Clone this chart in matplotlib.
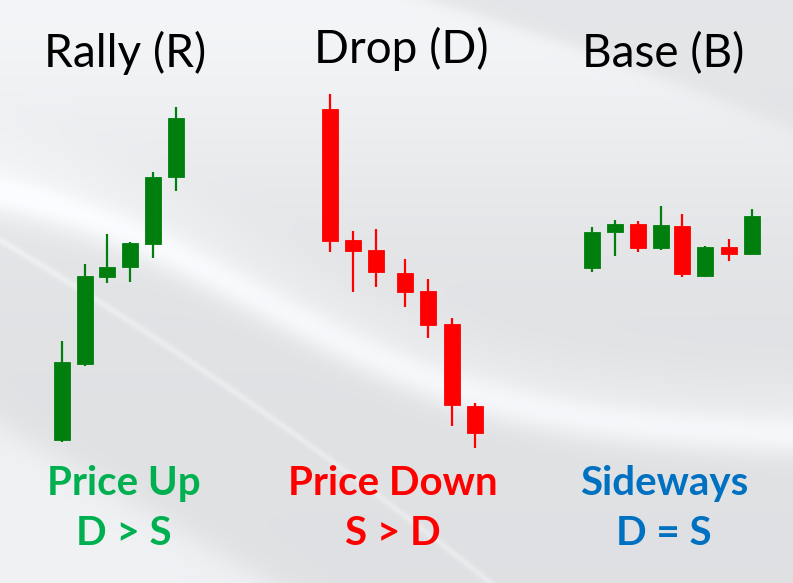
import numpy as np
import matplotlib
matplotlib.use("Agg")
import matplotlib.pyplot as plt

W, H = 793, 583

# candle data (price units, x = slot position)
rally_x = [62, 85, 107, 130, 153, 176]
rally_open = [143, 219, 306, 316, 339, 406]
rally_close = [221, 307, 316, 340, 406, 465]
rally_high = [242, 319, 349, 341, 411, 476]
rally_low = [141, 217, 300, 301, 325, 392]

drop_x = [330, 353, 376, 405, 428, 452, 475]
drop_open = [474, 343, 333, 310, 292, 259, 177]
drop_close = [342, 332, 311, 291, 258, 178, 150]
drop_high = [489, 352, 354, 324, 304, 265, 180]
drop_low = [331, 291, 296, 276, 245, 157, 135]

base_x = [592, 615, 638, 661, 682, 705, 729, 752]
base_open = [315, 351, 359, 335, 357, 307, 336, 329]
base_close = [351, 359, 335, 358, 309, 336, 329, 367]
base_high = [356, 363, 362, 377, 369, 337, 344, 374]
base_low = [311, 327, 331, 333, 306, 306, 322, 329]

titles = ["Rally (R)", "Drop (D)", "Base (B)"]
labels = ["Price Up", "Price Down", "Sideways"]
relations = ["D > S", "S > D", "D = S"]
label_colors = ["#00B050", "#FF0000", "#0070C0"]

GREEN = "#007F0E"
RED = "#FF0000"


def background():
    yy, xx = np.mgrid[0:H, 0:W].astype(float)
    val = 0.900 - 0.010 * yy / H
    # whiter top-left, grey curved patch top-right
    edge = 430 + 3.3 * yy - 0.004 * yy ** 2
    topright = 1 / (1 + np.exp(-(xx - edge) / 12))
    val += 0.07 * np.exp(-(yy / 190) ** 2) * (1 - 0.85 * topright)
    # broad white swoosh
    yc = 300 + 140 * np.tanh((xx - 260) / 260)
    val += 0.075 * np.exp(-((yy - yc) / 22) ** 2)
    val += 0.025 * np.exp(-((yy - yc + 35) / 35) ** 2)
    # thin light streak
    yc2 = 240 + 0.6 * xx + 0.0002 * xx ** 2
    val += 0.04 * np.exp(-((yy - yc2) / 4) ** 2)
    # bottom-left light wedge
    d = (yy - 425) - (158 / 270) * xx
    val += 0.065 / (1 + np.exp(-d / 10))
    val = np.clip(val, 0, 1)
    img = np.dstack([val * 0.985, val * 0.99, val * 1.0])
    return np.clip(img, 0, 1)


def draw_candles(ax, xs, opens, closes, highs, lows, colors):
    for x, o, c, h, l, col in zip(xs, opens, closes, highs, lows, colors):
        ax.vlines(x, l, h, color=col, lw=1.6, zorder=3)
        ax.bar(x, abs(c - o), bottom=min(o, c), width=15.5, color=col,
               edgecolor=col, lw=0.6, zorder=4)


fig = plt.figure(figsize=(W / 100, H / 100), dpi=100)
ax = fig.add_axes([0, 0, 1, 1])
ax.imshow(background(), extent=(0, W, 0, H), origin="upper", aspect="auto", zorder=0)

draw_candles(ax, rally_x, rally_open, rally_close, rally_high, rally_low,
             [GREEN] * len(rally_x))
draw_candles(ax, drop_x, drop_open, drop_close, drop_high, drop_low,
             [RED] * len(drop_x))
base_colors = [GREEN if c > o else RED for o, c in zip(base_open, base_close)]
draw_candles(ax, base_x, base_open, base_close, base_high, base_low, base_colors)

# text
centers = [125, 401, 663]
title_base = [H - 67, H - 63, H - 67]
for cx, ty, t in zip(centers, title_base, titles):
    ax.text(cx, ty, t, ha="center", va="baseline", fontsize=33,
            family="Lato", color="black", zorder=5)

lab_centers = [124, 393, 664]
for cx, lab, rel, col in zip(lab_centers, labels, relations, label_colors):
    ax.text(cx, H - 495, lab, ha="center", va="baseline", fontsize=29,
            family="Lato", weight="bold", color=col, zorder=5)
    ax.text(cx, H - 545, rel, ha="center", va="baseline", fontsize=29,
            family="Lato", weight="bold", color=col, zorder=5)

ax.set_xlim(0, W)
ax.set_ylim(0, H)
ax.axis("off")
fig.savefig("out.png", dpi=100)
